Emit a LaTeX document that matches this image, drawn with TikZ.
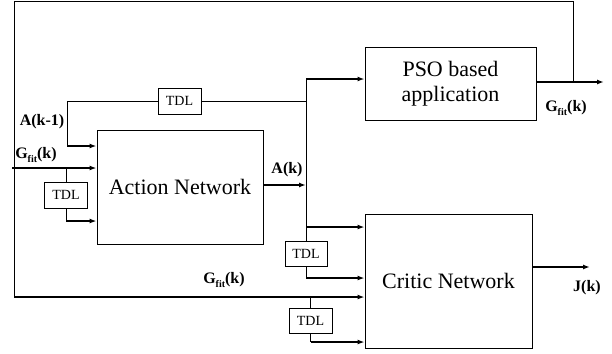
\documentclass[tikz,border=0pt]{standalone}
\usepackage{fontspec}
\setmainfont{Liberation Serif}
\usetikzlibrary{arrows.meta}
\newcommand{\gfitk}{G\raisebox{-0.45ex}{\fontsize{10}{10}\selectfont fit}(k)}
\begin{document}
\begin{tikzpicture}[x=1pt,y=-1pt,
  blk/.style={draw,line width=0.9pt,inner sep=0pt,align=center,font=\fontsize{22}{25}\selectfont},
  tdl/.style={draw,line width=0.7pt,inner sep=0pt,minimum width=43pt,minimum height=26pt,font=\fontsize{14}{16}\selectfont},
  lbl/.style={inner sep=0pt,font=\fontsize{16}{18}\selectfont\bfseries},
  thin/.style={line width=0.8pt},
  arr/.style={line width=1.6pt,-{Latex[length=7pt,width=5pt]}}]
\useasboundingbox (0,0) rectangle (612,353);
% blocks
\node[blk,minimum width=166pt,minimum height=114pt] (act) at (180,187) {Action Network};
\node[blk,minimum width=171pt,minimum height=73pt] (pso) at (450.5,83.5) {PSO based\\application};
\node[blk,minimum width=167pt,minimum height=134pt] (crit) at (448.5,281) {Critic Network};
% TDL boxes
\node[tdl] (t1) at (179.5,101) {TDL};
\node[tdl] (t2) at (66,195) {TDL};
\node[tdl,minimum width=42pt,minimum height=25pt] (t3) at (306,253.5) {TDL};
\node[tdl,minimum height=25pt] (t4) at (310.5,320.5) {TDL};
% coordinates
\coordinate (gin) at (12,168);
\coordinate (gj) at (t2.north |- gin);
\coordinate (actg) at (act.west |- gin);
\coordinate (a1) at (67,101);
\coordinate (a2) at (67,146);
\coordinate (acta1) at (act.west |- a2);
\coordinate (t2b) at (t2.south |- 0,221);
\coordinate (actt2) at (act.west |- t2b);
\coordinate (aout) at (act.east |- 0,185);
\coordinate (vx) at (306,185);
\coordinate (vtop) at (306,79);
\coordinate (vt1) at (306,101);
\coordinate (psoin) at (pso.west |- vtop);
\coordinate (v227) at (306,227);
\coordinate (crit1) at (crit.west |- v227);
\coordinate (t3b) at (t3.south |- 0,278);
\coordinate (crit2) at (crit.west |- t3b);
\coordinate (bl) at (14,297);
\coordinate (bj) at (t4.north |- bl);
\coordinate (crit3) at (crit.west |- bl);
\coordinate (t4b) at (t4.south |- 0,342);
\coordinate (crit4) at (crit.west |- t4b);
\coordinate (pout) at (pso.east |- 0,82);
\coordinate (pend) at (604,82);
\coordinate (rj) at (573,82);
\coordinate (rt) at (573,1);
\coordinate (lt) at (14,1);
\coordinate (cout) at (crit.east |- 0,267);
\coordinate (cend) at (590,267);
% connectors
\draw[arr] (gin) -- (actg);
\draw[thin] (gj) -- (t2.north);
\draw[thin] (t2.south) -- (t2b);
\draw[arr] (t2b) -- (actt2);
\draw[thin] (t1.west) -- (a1) -- (a2);
\draw[arr] (a2) -- (acta1);
\draw[thin] (t1.east) -- (vt1);
\draw[arr] (aout) -- (vx);
\draw[thin] (vtop) -- (t3.north);
\draw[arr] (vtop) -- (psoin);
\draw[arr] (v227) -- (crit1);
\draw[thin] (t3.south) -- (t3b);
\draw[arr] (t3b) -- (crit2);
\draw[arr] (bl) -- (crit3);
\draw[thin] (bj) -- (t4.north);
\draw[thin] (t4.south) -- (t4b);
\draw[arr] (t4b) -- (crit4);
\draw[arr] (pout) -- (pend);
\draw[thin] (rj) -- (rt) -- (lt) -- (bl);
\draw[arr] (cout) -- (cend);
% labels
\node[lbl] (la1) at (42,122) {A(k-1)};
\node[lbl] (lg1) at (36,155) {\gfitk};
\node[lbl] (lak) at (287,170) {A(k)};
\node[lbl] (lg2) at (566,108) {\gfitk};
\node[lbl] (lg3) at (224,280) {\gfitk};
\node[lbl] (lj) at (587,288) {J(k)};
\end{tikzpicture}
\end{document}
